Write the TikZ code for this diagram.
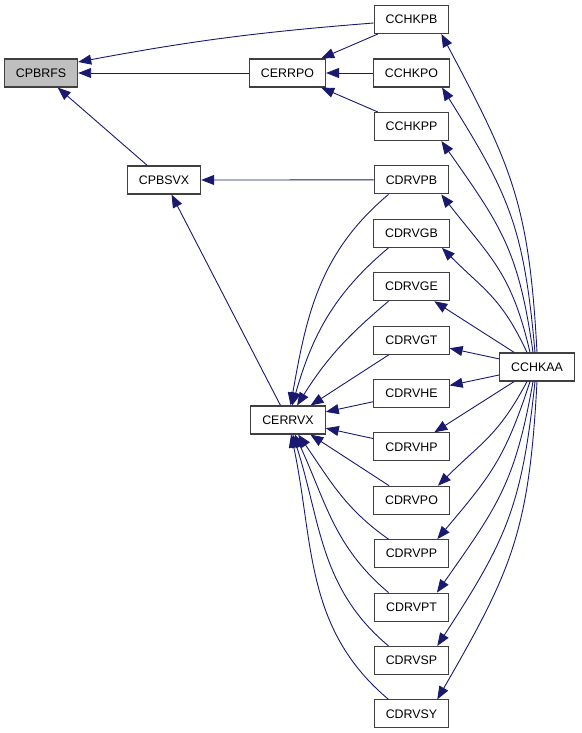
\documentclass[tikz,border=0pt]{standalone}
\usepackage{fontspec}
\setmainfont{Liberation Sans}
\usetikzlibrary{arrows.meta, calc}
\definecolor{edgeblue}{RGB}{25,25,112}
\definecolor{boxgray}{RGB}{64,64,64}
\definecolor{rootgray}{RGB}{191,191,191}
\tikzset{
    my-fn/.style={
        rectangle, draw=boxgray, line width=1.1pt, fill=white,
        minimum height=28pt, inner xsep=11.5pt, inner ysep=0pt,
        font=\fontsize{12.4}{14}\selectfont
    },
    my-root/.style={
        my-fn, fill=rootgray
    },
    my-call/.style={
        draw=edgeblue, line width=0.9pt, -{Triangle[length=13pt, width=10pt]}
    },
}

\begin{document}
\begin{tikzpicture}[x=1pt, y=1pt]

        \useasboundingbox (0,0) rectangle (581,-733);

        % LEFT COLUMN
        \node[my-root] (CPBRFS) at (41,-73)    {CPBRFS};
        \node[my-fn]   (CPBSVX) at (164,-180)  {CPBSVX};

        % MIDDLE COLUMN
        \node[my-fn]   (CERRPO) at (287.5,-73) {CERRPO};
        \node[my-fn]   (CERRVX) at (288,-420)  {CERRVX};

        % RIGHT COLUMN - CCHK* TESTS
        \node[my-fn] (CCHKPB) at (411.5,-19.5)  {CCHKPB};
        \node[my-fn] (CCHKPO) at (411.5,-73)    {CCHKPO};
        \node[my-fn] (CCHKPP) at (411.5,-126.5) {CCHKPP};

        % RIGHT COLUMN - CDRV* DRIVERS
        \foreach \drv [count=\k] in {CDRVPB,CDRVGB,CDRVGE,CDRVGT,CDRVHE,CDRVHP,CDRVPO,CDRVPP,CDRVPT,CDRVSP,CDRVSY}
            \node[my-fn] (\drv) at (411.5, -126.5-53.4*\k) {\drv};

        % MAIN PROGRAM
        \node[my-fn] (CCHKAA) at (537,-367) {CCHKAA};

        % CALLS INTO CPBRFS
        \draw[my-call] (CERRPO) -- (CPBRFS);
        \draw[my-call] ([yshift=-3.5pt]CCHKPB.west) to[bend right=3] ([yshift=11pt]CPBRFS.east);
        \draw[my-call] (CPBSVX) -- (CPBRFS);

        % CALLS INTO CERRPO
        \foreach \chk in {CCHKPB,CCHKPO,CCHKPP}
            \draw[my-call] (\chk) -- (CERRPO);

        % CALLS INTO CPBSVX
        \draw[my-call] (CDRVPB) -- (CPBSVX);
        \draw[my-call] (CERRVX) -- (CPBSVX);

        % CALLS INTO CERRVX
        \foreach \drv/\o/\i in {CDRVPB/-140/80,CDRVGB/-140/74,CDRVGE/-140/58}
            \draw[my-call] ([xshift=-23pt]\drv.south) to[out=\o, in=\i] (CERRVX);
        \foreach \drv in {CDRVGT,CDRVHE,CDRVHP,CDRVPO}
            \draw[my-call] (\drv) -- (CERRVX);
        \foreach \drv/\o/\i in {CDRVPP/145/-55,CDRVPT/140/-65,CDRVSP/140/-72,CDRVSY/140/-78}
            \draw[my-call] ([xshift=-23pt]\drv.north) to[out=\o, in=\i] (CERRVX);

        % CALLS FROM CCHKAA
        \foreach \dst/\dx/\o/\i in {CCHKPB/0pt/93/-62,CCHKPO/-2pt/95/-58,CCHKPP/-4pt/98/-55,CDRVPB/-7pt/103/-52,CDRVGB/-10pt/115/-45}
            \draw[my-call] ([xshift=\dx]CCHKAA.north) to[out=\o, in=\i, looseness=1.15] ([xshift=-8pt]\dst.south east);
        \foreach \dst in {CDRVGE,CDRVGT,CDRVHE,CDRVHP}
            \draw[my-call] (CCHKAA) -- (\dst);
        \foreach \dst/\dx/\o/\i in {CDRVPO/-10pt/-118/45,CDRVPP/-7pt/-108/50,CDRVPT/-4pt/-100/55,CDRVSP/-2pt/-96/57,CDRVSY/0pt/-93/60}
            \draw[my-call] ([xshift=\dx]CCHKAA.south) to[out=\o, in=\i, looseness=1.15] ([xshift=-12pt]\dst.north east);

\end{tikzpicture}
\end{document}
